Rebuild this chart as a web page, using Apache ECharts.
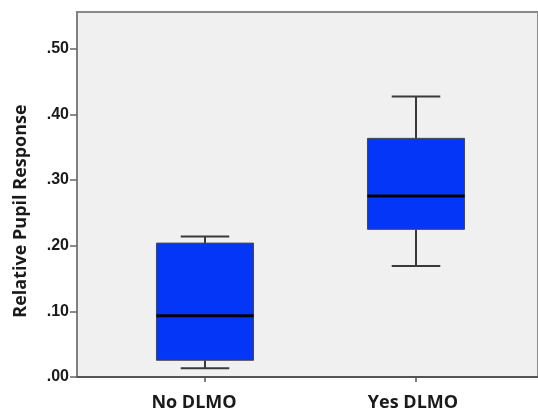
<!DOCTYPE html>
<html>
<head>
<meta charset="utf-8">
<script src="https://cdn.jsdelivr.net/npm/echarts@6/dist/echarts.min.js"></script>
<style>
html,body{margin:0;padding:0;background:#fff;}
#chart{width:538px;height:412px;}
</style>
</head>
<body>
<div id="chart"></div>
<script>
// Data
var categories = ['No DLMO', 'Yes DLMO'];
var whiskerLow  = [0.012, 0.168];
var quartile1   = [0.024, 0.224];
var medians     = [0.092, 0.275];
var quartile3   = [0.203, 0.363];
var whiskerHigh = [0.213, 0.427];
var yTickValues = [0, 0.1, 0.2, 0.3, 0.4, 0.5];
var yTickLabels = ['.00', '.10', '.20', '.30', '.40', '.50'];
var yTitle = 'Relative Pupil Response';

var boxData = categories.map(function (c, i) {
  return [i, whiskerLow[i], quartile1[i], medians[i], quartile3[i], whiskerHigh[i]];
});

var FONT = "'Open Sans', 'DejaVu Sans', sans-serif";
var NUMFONT = "'Liberation Sans', Arial, sans-serif";
var YMAX = 0.556;

function renderBox(params, api) {
  var idx = api.value(0);
  var band = api.size([1, 0])[0];
  var boxW = band * 0.46;
  var capW = boxW * 0.5;
  var pLow = api.coord([idx, api.value(1)]);
  var pQ1 = api.coord([idx, api.value(2)]);
  var pMed = api.coord([idx, api.value(3)]);
  var pQ3 = api.coord([idx, api.value(4)]);
  var pHigh = api.coord([idx, api.value(5)]);
  var cx = pMed[0];
  var lineStyle = { stroke: '#3a3a3a', lineWidth: 2 };
  return {
    type: 'group',
    children: [
      { type: 'line', shape: { x1: cx, y1: pQ3[1], x2: cx, y2: pHigh[1] }, style: lineStyle },
      { type: 'line', shape: { x1: cx, y1: pQ1[1], x2: cx, y2: pLow[1] }, style: lineStyle },
      { type: 'line', shape: { x1: cx - capW / 2, y1: pHigh[1], x2: cx + capW / 2, y2: pHigh[1] }, style: lineStyle },
      { type: 'line', shape: { x1: cx - capW / 2, y1: pLow[1], x2: cx + capW / 2, y2: pLow[1] }, style: lineStyle },
      { type: 'rect', shape: { x: cx - boxW / 2, y: pQ3[1], width: boxW, height: pQ1[1] - pQ3[1] },
        style: { fill: '#0336f6', stroke: '#4a4a4a', lineWidth: 1 } },
      { type: 'line', shape: { x1: cx - boxW / 2, y1: pMed[1], x2: cx + boxW / 2, y2: pMed[1] },
        style: { stroke: '#000', lineWidth: 3 } }
    ]
  };
}

var chart = echarts.init(document.getElementById('chart'), null, { renderer: 'canvas' });
chart.setOption({
  backgroundColor: '#ffffff',
  animation: false,
  grid: [
    { left: 77, top: 12, right: -20, bottom: 35, show: true, backgroundColor: '#f0f0f0',
      borderColor: '#8a8a8a', borderWidth: 2 },
    { left: 99.5, top: 12, width: 422, bottom: 35 }
  ],
  xAxis: [
    { type: 'category', gridIndex: 0, data: [''],
      axisLine: { show: true, lineStyle: { color: '#555', width: 2 } },
      axisTick: { show: false }, axisLabel: { show: false }, splitLine: { show: false } },
    { type: 'category', gridIndex: 1, data: categories, boundaryGap: true,
      axisLine: { show: false },
      axisTick: { show: true, alignWithLabel: true, length: 6, lineStyle: { color: '#555', width: 1.5 } },
      axisLabel: { margin: 18, fontFamily: FONT, fontWeight: 'bold', fontSize: 18, color: '#1a1a1a',
        formatter: function (v, i) { return '{c' + i + '|' + v + '}'; },
        rich: {
          c0: { fontFamily: FONT, fontWeight: 'bold', fontSize: 18, color: '#1a1a1a', padding: [0, 22, 0, 0] },
          c1: { fontFamily: FONT, fontWeight: 'bold', fontSize: 18, color: '#1a1a1a', padding: [0, 6, 0, 0] }
        } },
      splitLine: { show: false } }
  ],
  yAxis: [
    { type: 'value', gridIndex: 0, min: 0, max: YMAX, interval: 0.1,
      axisLine: { show: true, lineStyle: { color: '#808080', width: 2 } },
      axisTick: { show: true, length: 7, customValues: yTickValues, lineStyle: { color: '#666', width: 1.5 } },
      axisLabel: { margin: 8, customValues: yTickValues, fontFamily: NUMFONT, fontWeight: 'bold', fontSize: 16, color: '#1a1a1a',
        formatter: function (v) { return yTickLabels[Math.round(v * 10)]; } },
      splitLine: { show: false } },
    { type: 'value', gridIndex: 1, min: 0, max: YMAX, interval: 0.1, show: false, splitLine: { show: false } }
  ],
  graphic: [
    { type: 'text', x: 21, y: 211, rotation: Math.PI / 2,
      style: { text: yTitle, font: 'bold 18px ' + FONT, fill: '#1a1a1a', align: 'center', verticalAlign: 'middle' } }
  ],
  series: [
    { type: 'custom', xAxisIndex: 1, yAxisIndex: 1, renderItem: renderBox, data: boxData,
      encode: { x: 0, y: [1, 2, 3, 4, 5] } }
  ]
});
</script>
</body>
</html>
